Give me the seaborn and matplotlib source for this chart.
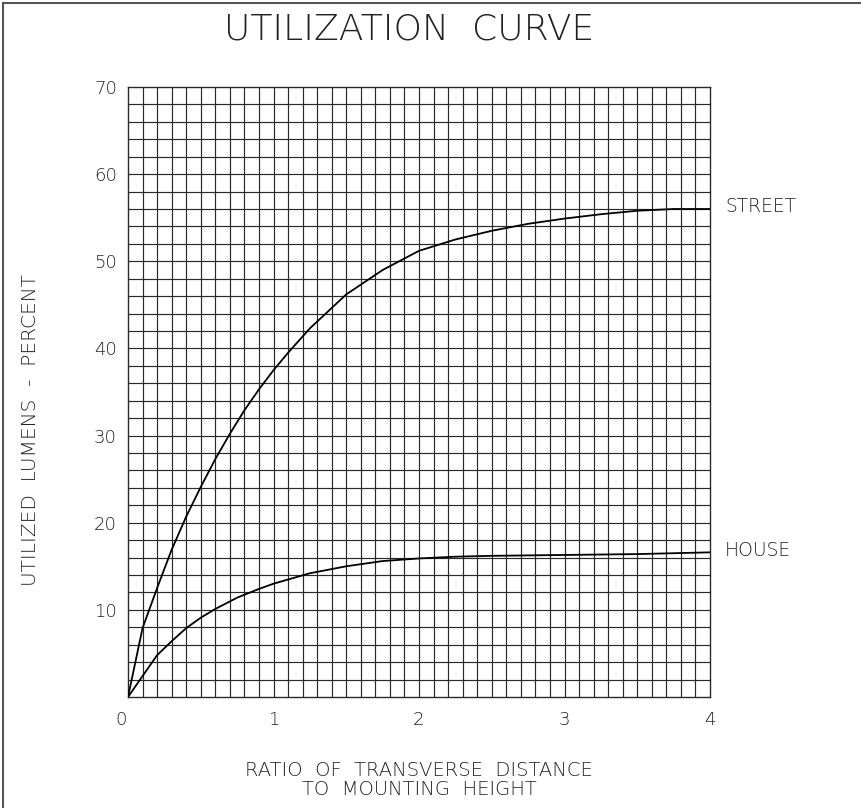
import numpy as np
import pandas as pd
import matplotlib
matplotlib.use("Agg")
import matplotlib.pyplot as plt
import matplotlib.transforms as mtransforms
from matplotlib.patches import Rectangle
import seaborn as sns

# values
street_x = [0, 0.1, 0.2, 0.3, 0.4, 0.5, 0.6, 0.7, 0.8, 0.9, 1.0, 1.1, 1.25,
            1.5, 1.75, 2.0, 2.25, 2.5, 2.75, 3.0, 3.25, 3.5, 3.75, 4.0]
street_y = [0, 7.9, 12.5, 16.9, 20.7, 24.1, 27.3, 30.2, 32.9, 35.3, 37.5, 39.5, 42.3,
            46.2, 49.0, 51.2, 52.5, 53.5, 54.3, 54.9, 55.4, 55.8, 56.0, 56.0]
house_x = [0, 0.2, 0.3, 0.4, 0.5, 0.6, 0.75, 0.9, 1.0, 1.25, 1.5, 1.75,
           2.0, 2.25, 2.5, 3.0, 3.5, 4.0]
house_y = [0, 4.8, 6.4, 7.9, 9.1, 10.1, 11.4, 12.4, 13.0, 14.2, 15.0, 15.6,
           15.9, 16.1, 16.2, 16.3, 16.4, 16.6]
x_ticks = [0, 1, 2, 3, 4]
y_ticks = [10, 20, 30, 40, 50, 60, 70]

df = pd.concat([
    pd.DataFrame({"ratio": street_x, "lumens": street_y, "curve": "STREET"}),
    pd.DataFrame({"ratio": house_x, "lumens": house_y, "curve": "HOUSE"}),
])

sns.set_style("white")
plt.rcParams["font.family"] = ["DejaVu Sans"]
plt.rcParams["font.weight"] = "light"

fig = plt.figure(figsize=(8.61, 8.08), dpi=100)
ax = fig.add_axes([128 / 861, 1 - 697 / 808, 582 / 861, 610 / 808])

# fine grid like the drafting sheet
for gx in np.arange(0.1, 4.0, 0.1):
    ax.axvline(gx, color="#2a2a2a", linewidth=0.85, zorder=1)
for gy in np.arange(2, 70, 2):
    ax.axhline(gy, color="#2a2a2a", linewidth=0.85, zorder=1)

sns.lineplot(data=df, x="ratio", y="lumens", units="curve", estimator=None,
             sort=False, color="black", linewidth=1.3, ax=ax, zorder=3)

for name, xs, ys in [("STREET", street_x, street_y), ("HOUSE", house_x, house_y)]:
    ax.annotate(name, xy=(xs[-1], ys[-1]), xytext=(15, 2), textcoords="offset pixels",
                ha="left", va="center", fontsize=13.5, color="#222")

ax.set_xlim(0, 4)
ax.set_ylim(0, 70)
ax.set_xticks(x_ticks)
ax.set_xticklabels([str(v) for v in x_ticks])
ax.set_yticks(y_ticks)
ax.set_yticklabels([str(v) for v in y_ticks])
ax.tick_params(length=0, labelsize=13, labelcolor="#222")
ax.tick_params(axis="x", pad=10)
ax.tick_params(axis="y", pad=8)
# the "0" sits a little left of the corner on the sheet
first = ax.get_xticklabels()[0]
first.set_transform(first.get_transform() +
                    mtransforms.ScaledTranslation(-7 / 100, 0, fig.dpi_scale_trans))
ax.set_xlabel("")
ax.set_ylabel("")
for s in ax.spines.values():
    s.set_color("#2a2a2a")
    s.set_linewidth(1.0)

fig.text(409 / 861, 1 - 29 / 808, "UTILIZATION  CURVE", ha="center", va="center",
         fontsize=26, color="#222")
fig.text(419 / 861, 1 - 780 / 808, "RATIO  OF  TRANSVERSE  DISTANCE\nTO  MOUNTING  HEIGHT",
         ha="center", va="center", fontsize=14, color="#222", linespacing=1.0)
fig.text(31 / 861, 1 - 430 / 808, "UTILIZED  LUMENS  -  PERCENT", rotation=90,
         ha="center", va="center", fontsize=14.5, color="#222")

# drawing frame, only the top and left edges fall inside the sheet
fig.patches.append(Rectangle((3 / 861, -0.1), 1.2, 1.1 - 3 / 808, transform=fig.transFigure,
                             fill=False, edgecolor="#555", linewidth=1.5))

fig.savefig("out.png", dpi=100)
